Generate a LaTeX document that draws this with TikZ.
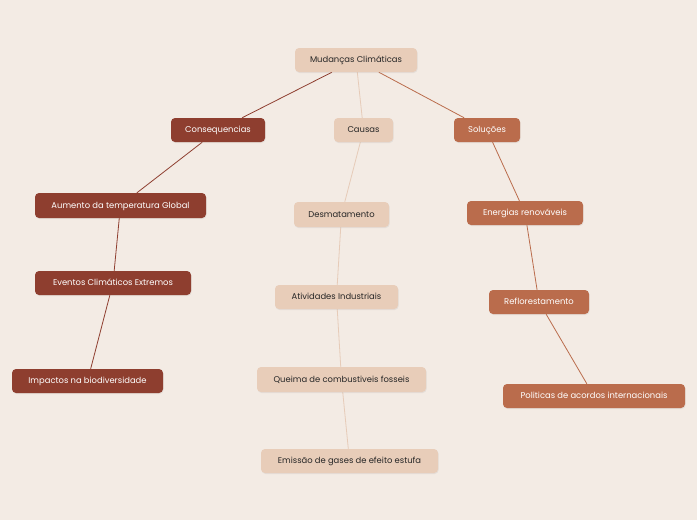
\documentclass[tikz,border=0pt]{standalone}
\usepackage{fontspec}
\setmainfont{Poppins}
\usetikzlibrary{backgrounds,shadows}
\definecolor{bg}{HTML}{F3EBE4}
\definecolor{dark}{HTML}{8E3E2F}
\definecolor{light}{HTML}{E8CDB9}
\definecolor{mid}{HTML}{BA6C4C}
\definecolor{lightline}{HTML}{E6CBB8}
\tikzset{
  box/.style={rounded corners=4pt, minimum height=24pt, inner sep=0pt, text height=5.8pt, text depth=0.4pt,
    font=\fontsize{8.4}{10}\selectfont,
    drop shadow={opacity=0.12, shadow xshift=0.6pt, shadow yshift=-1pt}},
  darkbox/.style={box, fill=dark, text=white},
  lightbox/.style={box, fill=light, text=black!85},
  midbox/.style={box, fill=mid, text=white},
  darkline/.style={draw=dark, line width=0.8pt},
  lightline/.style={draw=lightline, line width=0.8pt},
  midline/.style={draw=mid, line width=0.8pt},
}
\begin{document}
\begin{tikzpicture}[x=1pt,y=-1pt]
\useasboundingbox (0,0) rectangle (697,520);
\node[lightbox, minimum width=122pt] (root) at (356,60) {Mudanças Climáticas};
\node[darkbox, minimum width=94pt] (cons) at (218,130) {Consequencias};
\node[lightbox, minimum width=59pt] (caus) at (363.5,130) {Causas};
\node[midbox, minimum width=66pt] (sol) at (487,130) {Soluções};
\node[darkbox, minimum width=171pt, minimum height=25pt] (aum) at (120.5,205.5) {Aumento da temperatura Global};
\node[darkbox, minimum width=156pt] (eve) at (113,283) {Eventos Climáticos Extremos};
\node[darkbox, minimum width=151pt] (imp) at (87.5,381) {Impactos na biodiversidade};
\node[lightbox, minimum width=95pt, minimum height=25pt] (desm) at (341.5,214.5) {Desmatamento};
\node[lightbox, minimum width=123pt] (ativ) at (336.5,297) {Atividades Industriais};
\node[lightbox, minimum width=169pt, minimum height=25pt] (quei) at (341.5,379.5) {Queima de combustiveis fosseis};
\node[lightbox, minimum width=177pt] (emis) at (349.5,461) {Emissão de gases de efeito estufa};
\node[midbox, minimum width=116pt] (ener) at (525,213) {Energias renováveis};
\node[midbox, minimum width=100pt] (refl) at (539,302) {Reflorestamento};
\node[midbox, minimum width=182pt] (poli) at (594,396) {Politicas de acordos internacionais};
\begin{pgfonlayer}{background}
\fill[bg] (0,0) rectangle (697,520);
\draw[darkline] (root) -- (cons);
\draw[lightline] (root) -- (caus);
\draw[midline] (root) -- (sol);
\draw[darkline] (cons) -- (aum);
\draw[darkline] (aum) -- (eve);
\draw[darkline] (eve) -- (imp);
\draw[lightline] (caus) -- (desm);
\draw[lightline] (desm) -- (ativ);
\draw[lightline] (ativ) -- (quei);
\draw[lightline] (quei) -- (emis);
\draw[midline] (sol) -- (ener);
\draw[midline] (ener) -- (refl);
\draw[midline] (refl) -- (poli);
\end{pgfonlayer}
\end{tikzpicture}
\end{document}
